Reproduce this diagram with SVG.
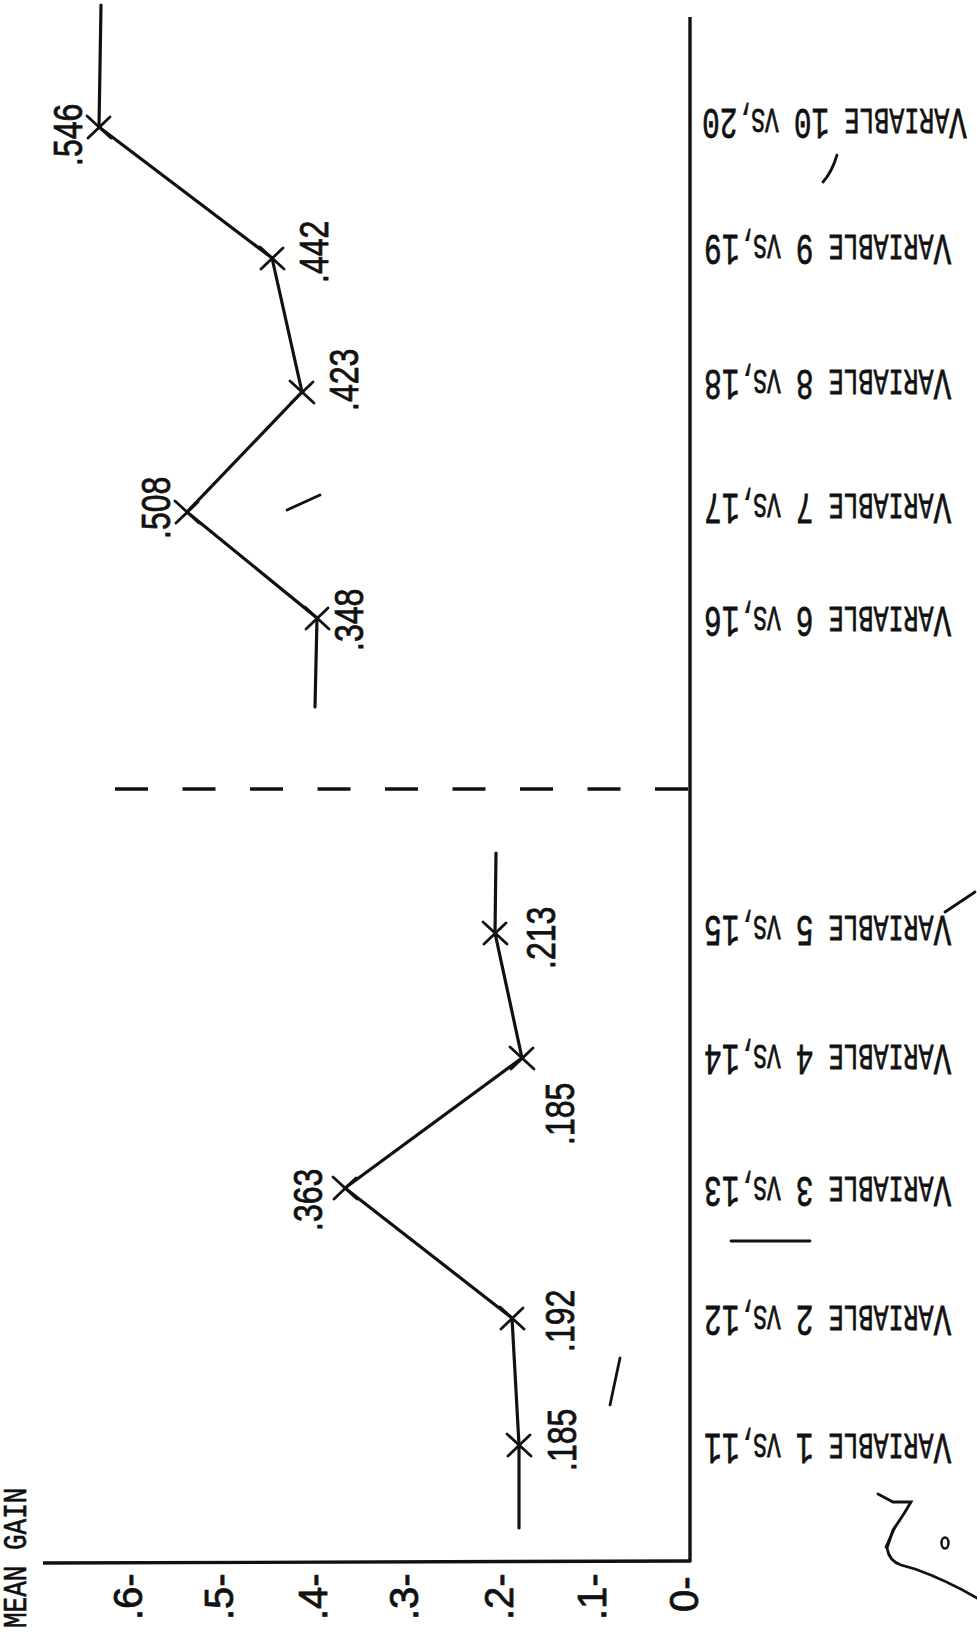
<svg xmlns="http://www.w3.org/2000/svg" xmlns:xlink="http://www.w3.org/1999/xlink" width="977" height="1642" viewBox="0 0 977 1642">
<style>
.ln{fill:none;stroke:#111;stroke-width:3.2;stroke-linecap:round;stroke-linejoin:round}
.ax{fill:none;stroke:#111;stroke-width:3.4}
.dash{fill:none;stroke:#111;stroke-width:3.6;stroke-dasharray:33 34.5}
.mk{fill:none;stroke:#111;stroke-width:2.8;stroke-linecap:round}
.num{font-family:"Liberation Sans",Arial,sans-serif;font-size:40px;fill:#111;stroke:#111;stroke-width:0.8}
.tick{font-family:"Liberation Sans",Arial,sans-serif;font-size:40px;fill:#111;stroke:#111;stroke-width:0.8}
.lbl{font-family:"Liberation Mono","Courier New",monospace;fill:#111;font-size:25px;stroke:#111;stroke-width:0.5}
.big{font-size:29.5px}
.sm{font-size:23px}
.ttl{font-family:"Liberation Mono","Courier New",monospace;font-size:26px;fill:#111;stroke:#111;stroke-width:0.5}
</style>
<defs>
<g id="cross"><line class="mk" x1="-12" y1="-11" x2="12" y2="11"/><line class="mk" x1="-11" y1="11" x2="11" y2="-10"/></g>
</defs>
<rect width="977" height="1642" fill="#fff"/>

<g id="axes">
<line class="ax" x1="690" y1="17" x2="690" y2="1562"/>
<line class="ax" x1="43" y1="1563" x2="691" y2="1561"/>
<line class="dash" x1="115" y1="789" x2="688" y2="789"/>
</g>

<g id="connectors">
<polyline class="ln" points="519,1528 519,1445 512,1318 345,1188 522,1058 495,933 496,853"/>
<polyline class="ln" points="315,707 317,618 187,512 302,392 272,258 99,127 101,5"/>
</g>

<g id="points">
<use xlink:href="#cross" href="#cross" x="519" y="1445"/>
<use xlink:href="#cross" href="#cross" x="512" y="1318"/>
<use xlink:href="#cross" href="#cross" x="345" y="1188"/>
<use xlink:href="#cross" href="#cross" x="522" y="1058"/>
<use xlink:href="#cross" href="#cross" x="495" y="933"/>
<use xlink:href="#cross" href="#cross" x="317" y="618"/>
<use xlink:href="#cross" href="#cross" x="187" y="512"/>
<use xlink:href="#cross" href="#cross" x="302" y="392"/>
<use xlink:href="#cross" href="#cross" x="272" y="258"/>
<use xlink:href="#cross" href="#cross" x="99" y="127"/>
</g>

<g id="value-labels">
<text class="num" transform="translate(576,1471) rotate(-90) scale(0.8,1)">.185</text>
<text class="num" transform="translate(574,1352) rotate(-90) scale(0.8,1)">.192</text>
<text class="num" transform="translate(322,1231) rotate(-90) scale(0.8,1)">.363</text>
<text class="num" transform="translate(574,1145) rotate(-90) scale(0.8,1)">.185</text>
<text class="num" transform="translate(555,969) rotate(-90) scale(0.8,1)">.213</text>
<text class="num" transform="translate(363,651) rotate(-90) scale(0.8,1)">.348</text>
<text class="num" transform="translate(170,539) rotate(-90) scale(0.8,1)">.508</text>
<text class="num" transform="translate(358,411) rotate(-90) scale(0.8,1)">.423</text>
<text class="num" transform="translate(328,283) rotate(-90) scale(0.8,1)">.442</text>
<text class="num" transform="translate(82,166) rotate(-90) scale(0.8,1)">.546</text>
</g>

<g id="y-axis-labels">
<text class="ttl" transform="translate(26,1628) rotate(-90) scale(1,1.3)">MEAN GAIN</text>
<text class="tick" transform="translate(142,1620) rotate(-90)">.6-</text>
<text class="tick" transform="translate(233,1620) rotate(-90)">.5-</text>
<text class="tick" transform="translate(327,1620) rotate(-90)">.4-</text>
<text class="tick" transform="translate(418,1620) rotate(-90)">.3-</text>
<text class="tick" transform="translate(513,1620) rotate(-90)">.2-</text>
<text class="tick" transform="translate(606,1620) rotate(-90)">.1-</text>
<text class="tick" transform="translate(698,1612) rotate(-90)">0-</text>
</g>

<g id="category-labels">
<g id="var1" transform="translate(704,1434) rotate(180) scale(1,1.5)"><text class="lbl" text-anchor="end"><tspan class="big">V</tspan>ARIABLE <tspan class="big">1</tspan> <tspan class="sm">VS,</tspan><tspan class="big">11</tspan></text></g>
<g id="var2" transform="translate(704,1306) rotate(180) scale(1,1.5)"><text class="lbl" text-anchor="end"><tspan class="big">V</tspan>ARIABLE <tspan class="big">2</tspan> <tspan class="sm">VS,</tspan><tspan class="big">12</tspan></text></g>
<g id="var3" transform="translate(704,1177) rotate(180) scale(1,1.5)"><text class="lbl" text-anchor="end"><tspan class="big">V</tspan>ARIABLE <tspan class="big">3</tspan> <tspan class="sm">VS,</tspan><tspan class="big">13</tspan></text></g>
<g id="var4" transform="translate(704,1045) rotate(180) scale(1,1.5)"><text class="lbl" text-anchor="end"><tspan class="big">V</tspan>ARIABLE <tspan class="big">4</tspan> <tspan class="sm">VS,</tspan><tspan class="big">14</tspan></text></g>
<g id="var5" transform="translate(704,916) rotate(180) scale(1,1.5)"><text class="lbl" text-anchor="end"><tspan class="big">V</tspan>ARIABLE <tspan class="big">5</tspan> <tspan class="sm">VS,</tspan><tspan class="big">15</tspan></text></g>
<g id="var6" transform="translate(704,607) rotate(180) scale(1,1.5)"><text class="lbl" text-anchor="end"><tspan class="big">V</tspan>ARIABLE <tspan class="big">6</tspan> <tspan class="sm">VS,</tspan><tspan class="big">16</tspan></text></g>
<g id="var7" transform="translate(704,494) rotate(180) scale(1,1.5)"><text class="lbl" text-anchor="end"><tspan class="big">V</tspan>ARIABLE <tspan class="big">7</tspan> <tspan class="sm">VS,</tspan><tspan class="big">17</tspan></text></g>
<g id="var8" transform="translate(704,370) rotate(180) scale(1,1.5)"><text class="lbl" text-anchor="end"><tspan class="big">V</tspan>ARIABLE <tspan class="big">8</tspan> <tspan class="sm">VS,</tspan><tspan class="big">18</tspan></text></g>
<g id="var9" transform="translate(704,235) rotate(180) scale(1,1.5)"><text class="lbl" text-anchor="end"><tspan class="big">V</tspan>ARIABLE <tspan class="big">9</tspan> <tspan class="sm">VS,</tspan><tspan class="big">19</tspan></text></g>
<g id="var10" transform="translate(702,109) rotate(180) scale(1,1.5)"><text class="lbl" text-anchor="end"><tspan class="big">V</tspan>ARIABLE <tspan class="big">10</tspan> <tspan class="sm">VS,</tspan><tspan class="big">20</tspan></text></g>
</g>

<g id="marks">
<path class="mk" d="M878,1494 L893,1502 L911,1502 Q903,1516 893,1530 L887,1548 Q889,1561 901,1565 L915,1569 Q946,1580 977,1598"/>
<path class="mk" d="M886,1547 L895,1527"/>
<ellipse cx="945" cy="1543" rx="3.5" ry="5.5" fill="none" stroke="#111" stroke-width="2.5"/>
<line class="mk" x1="731" y1="1241" x2="810" y2="1241"/>
<line class="mk" x1="620" y1="1358" x2="610" y2="1405"/>
<line class="mk" x1="945" y1="912" x2="975" y2="892"/>
<line class="mk" x1="287" y1="510" x2="320" y2="495"/>
<path class="mk" d="M837,155 Q832,172 823,182"/>
</g>
</svg>
